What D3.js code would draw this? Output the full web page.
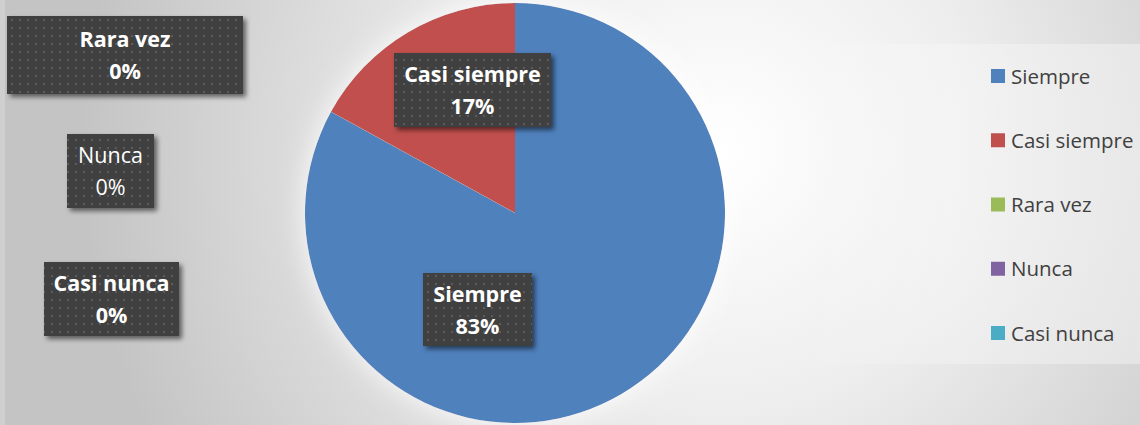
<!DOCTYPE html>
<meta charset="utf-8">
<script src="https://d3js.org/d3.v7.min.js"></script>
<style>
  body { margin: 0; }
  svg { display: block; }
</style>
<div id="my_dataviz"></div>
<script>

    // data
    var categories = ["Siempre", "Casi siempre", "Rara vez", "Nunca", "Casi nunca"];
    var values = [83, 17, 0, 0, 0];
    var colors = ["#4F81BD", "#C0504D", "#9BBB59", "#8064A2", "#4BACC6"];

    // where Excel put each data label box (x, y, w, h) and if the text is bold
    var labelBoxes = [
        {x: 423, y: 273, w: 109, h: 73, bold: true},
        {x: 394, y: 53, w: 157, h: 74, bold: true},
        {x: 7, y: 16, w: 236, h: 78, bold: true},
        {x: 67, y: 134, w: 87, h: 74, bold: false},
        {x: 44, y: 262, w: 135, h: 74, bold: true}
    ];

    var width = 1140, height = 425;
    var cx = 515, cy = 213, radius = 210;
    var font = "'Open Sans', sans-serif";

    var svg = d3.select("#my_dataviz")
        .append("svg")
        .attr("width", width)
        .attr("height", height);

    var defs = svg.append("defs");

    // background gradient
    var bg = defs.append("radialGradient")
        .attr("id", "bg")
        .attr("gradientUnits", "userSpaceOnUse")
        .attr("cx", 720).attr("cy", 150).attr("r", 640);
    bg.append("stop").attr("offset", "0%").attr("stop-color", "#ffffff");
    bg.append("stop").attr("offset", "40%").attr("stop-color", "#eeeeee");
    bg.append("stop").attr("offset", "100%").attr("stop-color", "#c4c4c4");

    // legend band fades in from the left
    var lg = defs.append("linearGradient")
        .attr("id", "legfill")
        .attr("x1", "0%").attr("x2", "100%");
    lg.append("stop").attr("offset", "0%").attr("stop-color", "#fff").attr("stop-opacity", 0);
    lg.append("stop").attr("offset", "45%").attr("stop-color", "#fff").attr("stop-opacity", 0.25);
    lg.append("stop").attr("offset", "100%").attr("stop-color", "#fff").attr("stop-opacity", 0.35);

    // dotted texture for the label boxes
    var pat = defs.append("pattern")
        .attr("id", "dots")
        .attr("patternUnits", "userSpaceOnUse")
        .attr("width", 8).attr("height", 8);
    pat.append("rect").attr("width", 8).attr("height", 8).attr("fill", "#404040");
    pat.append("rect").attr("x", 3).attr("y", 3).attr("width", 2).attr("height", 2).attr("fill", "#5c5c5c");

    var shadow = defs.append("filter")
        .attr("id", "shadow")
        .attr("x", "-20%").attr("y", "-20%").attr("width", "140%").attr("height", "140%");
    shadow.append("feDropShadow")
        .attr("dx", 3).attr("dy", 3).attr("stdDeviation", 2.5)
        .attr("flood-color", "#000").attr("flood-opacity", 0.55);

    var glow = defs.append("filter")
        .attr("id", "glow")
        .attr("x", "-20%").attr("y", "-20%").attr("width", "140%").attr("height", "140%");
    glow.append("feDropShadow")
        .attr("dx", 0).attr("dy", 0).attr("stdDeviation", 14)
        .attr("flood-color", "#fff").attr("flood-opacity", 0.9);

    svg.append("rect")
        .attr("width", width).attr("height", height)
        .attr("fill", "url(#bg)");

    // thin lighter strip at the left edge
    svg.append("rect")
        .attr("x", 0).attr("y", 0).attr("width", 5).attr("height", height)
        .attr("fill", "#fff").attr("opacity", 0.2);

    // legend box
    svg.append("rect")
        .attr("x", 800).attr("y", 44).attr("width", 340).attr("height", 320)
        .attr("fill", "url(#legfill)");

    var pie = d3.pie().sort(null).value(function (d) { return d; });
    var arc = d3.arc().innerRadius(0).outerRadius(radius);
    var arcs = pie(values);

    var g = svg.append("g")
        .attr("transform", "translate(" + cx + "," + cy + ")")
        .attr("filter", "url(#glow)");

    g.selectAll("path")
        .data(arcs)
        .enter()
        .append("path")
        .attr("d", arc)
        .attr("fill", function (d, i) { return colors[i]; });

    // data labels
    var total = d3.sum(values);
    var lab = svg.selectAll(".lab")
        .data(categories)
        .enter()
        .append("g")
        .attr("class", "lab");

    lab.append("rect")
        .attr("x", function (d, i) { return labelBoxes[i].x; })
        .attr("y", function (d, i) { return labelBoxes[i].y; })
        .attr("width", function (d, i) { return labelBoxes[i].w; })
        .attr("height", function (d, i) { return labelBoxes[i].h; })
        .attr("fill", "url(#dots)")
        .attr("filter", "url(#shadow)");

    lab.append("text")
        .attr("x", function (d, i) { return labelBoxes[i].x + labelBoxes[i].w / 2; })
        .attr("y", function (d, i) { return labelBoxes[i].y + labelBoxes[i].h / 2 - 8; })
        .attr("text-anchor", "middle")
        .attr("font-family", font)
        .attr("font-size", "21.5px")
        .attr("font-weight", function (d, i) { return labelBoxes[i].bold ? "bold" : "normal"; })
        .attr("fill", "#fff")
        .text(function (d) { return d; });

    lab.append("text")
        .attr("x", function (d, i) { return labelBoxes[i].x + labelBoxes[i].w / 2; })
        .attr("y", function (d, i) { return labelBoxes[i].y + labelBoxes[i].h / 2 + 24; })
        .attr("text-anchor", "middle")
        .attr("font-family", font)
        .attr("font-size", "21.5px")
        .attr("font-weight", function (d, i) { return labelBoxes[i].bold ? "bold" : "normal"; })
        .attr("fill", "#fff")
        .text(function (d, i) { return Math.round(values[i] / total * 100) + "%"; });

    // legend
    var ly = d3.scalePoint()
        .domain(categories)
        .range([76, 333]);

    var leg = svg.selectAll(".leg")
        .data(categories)
        .enter()
        .append("g")
        .attr("class", "leg")
        .attr("transform", function (d) { return "translate(991," + ly(d) + ")"; });

    leg.append("rect")
        .attr("x", 0).attr("y", -7)
        .attr("width", 14).attr("height", 14)
        .attr("fill", function (d, i) { return colors[i]; });

    leg.append("text")
        .attr("x", 20)
        .attr("y", 7.5)
        .attr("font-family", font)
        .attr("font-size", "20.5px")
        .attr("fill", "#404040")
        .text(function (d) { return d; });

</script>
